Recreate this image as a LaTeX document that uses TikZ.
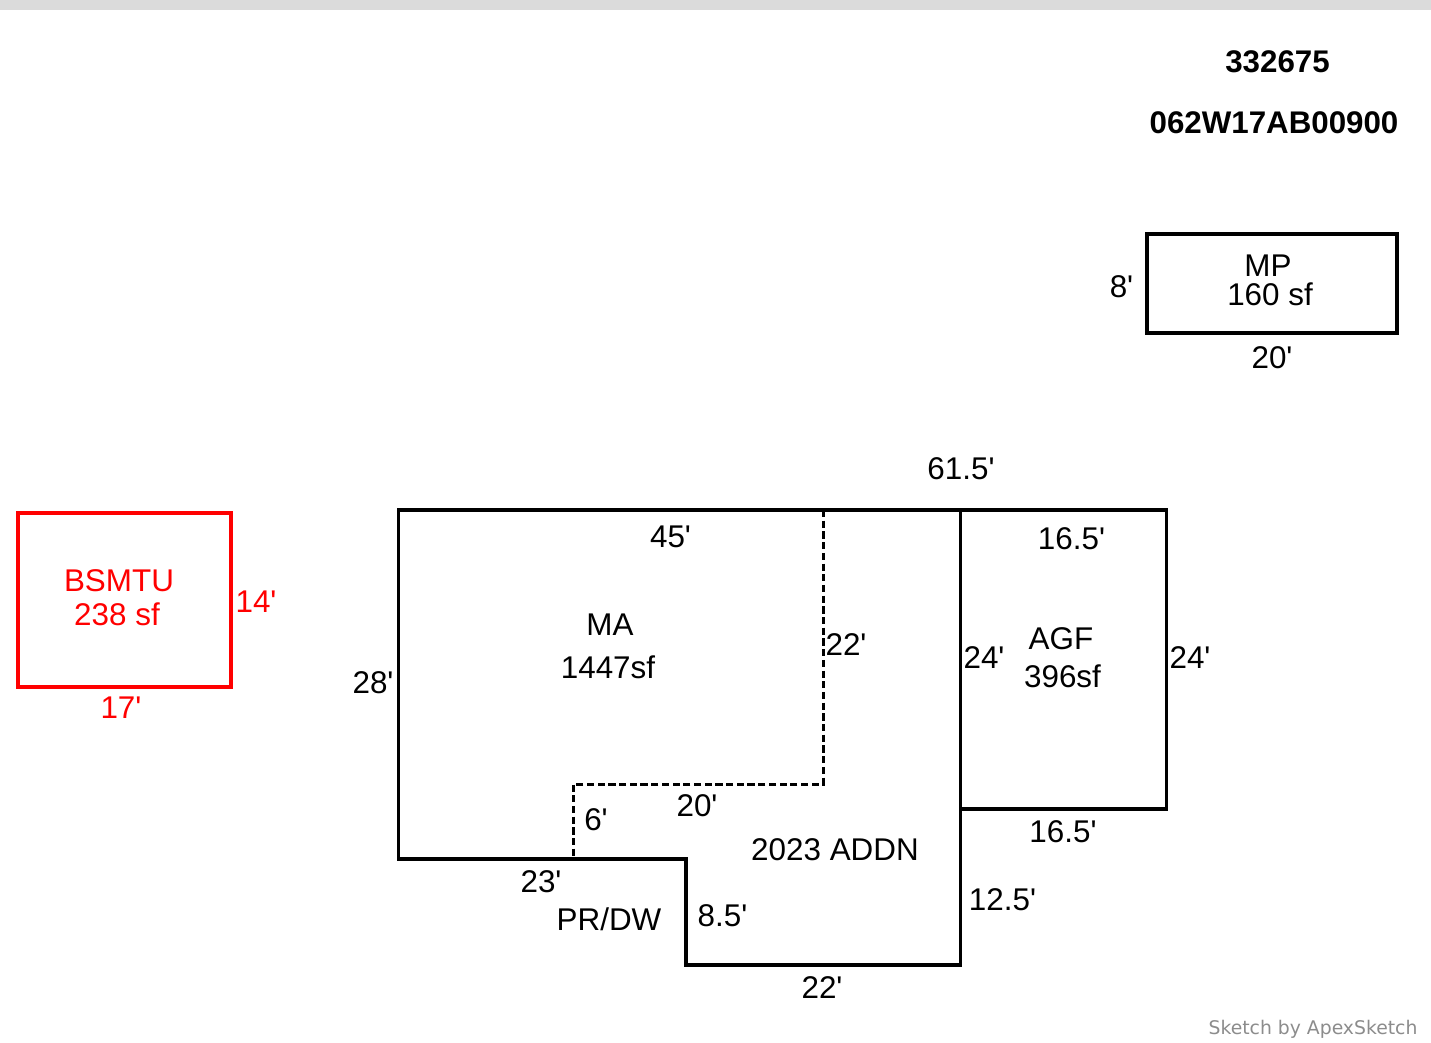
\documentclass[tikz,border=0pt]{standalone}
\usepackage{fontspec}
\setmainfont{Liberation Sans}[Ligatures=TeXOff]
\newfontfamily\creditfont{DejaVu Sans}
\begin{document}
\begin{tikzpicture}[x=1pt,y=-1pt,
  wall/.style={draw=black,line width=3.8pt,line join=miter,line cap=rect},
  inner/.style={draw=black,line width=3pt,dash pattern=on 7.2pt off 3.5pt},
  redwall/.style={draw=red,line width=3.5pt,line join=miter},
  lab/.style={font=\fontsize{31.4}{33}\selectfont,inner sep=0pt,text=black,align=center},
  redlab/.style={lab,text=red},
  head/.style={font=\fontsize{31.3}{33}\selectfont\bfseries,inner sep=0pt,text=black}]
\useasboundingbox (0,0) rectangle (1431,1042);
\fill[fill=black!14] (0,0) rectangle (1431,10);
\node[head] (id1) at (1277.5,61.5) {332675};
\node[head] (id2) at (1274,122.5) {062W17AB00900};
% MP
\draw[wall,line width=3.5pt] (1147,234) rectangle (1397,333);
\node[lab] (mp1) at (1268,265.5) {MP};
\node[lab] (mp2) at (1270,294.5) {160 sf};
\node[lab] (mp8) at (1121.5,286.5) {8'};
\node[lab] (mp20) at (1272,357.5) {20'};
% BSMTU
\draw[redwall] (18,513) rectangle (231,687);
\node[redlab] (b1) at (119,580.5) {BSMTU};
\node[redlab] (b2) at (117,614.5) {238 sf};
\node[redlab] (b14) at (256,601.5) {14'};
\node[redlab] (b17) at (121,707.5) {17'};
% main
\draw[wall] (398.5,510) -- (960.5,510) -- (960.5,965) -- (685.7,965) -- (685.7,859) -- (398.5,859) -- cycle;
\draw[wall] (960.5,510) -- (1166.5,510) -- (1166.5,809) -- (960.5,809);
\draw[inner] (823,510) -- (823,784) -- (573.2,784) -- (573.2,859);
\node[lab] (d615) at (961,468.5) {61.5'};
\node[lab] (d45) at (670.5,536.5) {45'};
\node[lab] (d165t) at (1071.5,539) {16.5'};
\node[lab] (ma1) at (610,624.5) {MA};
\node[lab] (ma2) at (608,667.5) {1447sf};
\node[lab] (d22a) at (846,644.5) {22'};
\node[lab] (d24a) at (984,657.5) {24'};
\node[lab] (agf1) at (1061,638.5) {AGF};
\node[lab] (agf2) at (1062.5,676.5) {396sf};
\node[lab] (d24b) at (1190,657.5) {24'};
\node[lab] (d28) at (373,682.5) {28'};
\node[lab] (d20) at (697,805.5) {20'};
\node[lab] (d6) at (596,819.5) {6'};
\node[lab] (d165b) at (1063,831.5) {16.5'};
\node[lab] (addn) at (835,849.5) {2023 ADDN};
\node[lab] (d23) at (541,881.5) {23'};
\node[lab] (d125) at (1002.5,899.5) {12.5'};
\node[lab] (d85) at (722.5,916) {8.5'};
\node[lab] (pr) at (609,919.5) {PR/DW};
\node[lab] (d22b) at (822,987.5) {22'};
\node[font=\creditfont\fontsize{18.8}{21}\selectfont,text=black!45,inner sep=0pt] (credit) at (1313,1029) {Sketch by ApexSketch};
\end{tikzpicture}
\end{document}
